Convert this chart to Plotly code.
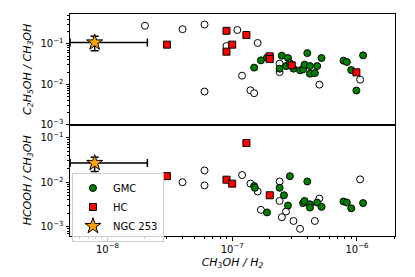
import plotly.graph_objects as go

# ---------------- data ----------------
# Top panel: C2H5OH / CH3OH vs CH3OH / H2
top_open_x = [2.0e-8, 4.0e-8, 6.0e-8, 6.0e-8, 1.1e-7, 9.0e-8, 1.6e-7, 1.2e-7, 1.4e-7, 1.5e-7,
              2.4e-7, 2.4e-7, 5.0e-7, 1.06e-6]
top_open_y = [0.28, 0.23, 0.30, 0.0066, 0.22, 0.088, 0.105, 0.0163, 0.0071, 0.0060,
              0.0324, 0.020, 0.0098, 0.013]

top_gmc_x = [1.5e-7, 1.7e-7, 1.9e-7, 2.5e-7, 2.8e-7, 2.4e-7, 2.7e-7, 2.9e-7, 3.1e-7, 3.5e-7,
             3.7e-7, 3.8e-7, 4.0e-7, 4.2e-7, 4.8e-7, 4.2e-7, 4.6e-7, 5.2e-7, 7.8e-7, 8.3e-7,
             9.0e-7, 9.9e-7, 1.12e-6]
top_gmc_y = [0.0258, 0.039, 0.0455, 0.051, 0.0445, 0.0243, 0.0282, 0.0335, 0.0243, 0.0221,
             0.0234, 0.0306, 0.059, 0.0282, 0.0282, 0.0183, 0.0189, 0.0445, 0.0384, 0.0355,
             0.0225, 0.0070, 0.0519]

top_hc_x = [3.0e-8, 9.0e-8, 1.3e-7, 1.0e-7, 9.0e-8, 2.0e-7, 2.0e-7, 3.0e-7, 9.9e-7]
top_hc_y = [0.0955, 0.21, 0.165, 0.0955, 0.064, 0.049, 0.042, 0.0294, 0.0197]

# Bottom panel: HCOOH / CH3OH vs CH3OH / H2
bot_open_x = [4.0e-8, 6.0e-8, 6.0e-8, 1.2e-7, 1.4e-7, 1.6e-7, 2.4e-7, 2.4e-7, 1.7e-7, 2.7e-7,
              2.5e-7, 3.1e-7, 3.5e-7, 5.0e-7, 4.6e-7, 1.06e-6]
bot_open_y = [0.0100, 0.0184, 0.0085, 0.0145, 0.0093, 0.0062, 0.0104, 0.0038, 0.0024, 0.0022,
              0.00164, 0.00135, 0.0009, 0.0043, 0.00135, 0.0116]

bot_gmc_x = [1.5e-7, 1.52e-7, 2.9e-7, 4.0e-7, 2.4e-7, 2.6e-7, 2.8e-7, 1.9e-7, 3.7e-7, 3.8e-7,
             4.2e-7, 4.2e-7, 4.8e-7, 5.2e-7, 7.8e-7, 8.3e-7, 9.0e-7, 1.12e-6]
bot_gmc_y = [0.0082, 0.0075, 0.0137, 0.0104, 0.0075, 0.0051, 0.0030, 0.0021, 0.0034, 0.0038,
             0.0032, 0.0027, 0.0035, 0.0028, 0.0037, 0.0035, 0.0026, 0.0034]

bot_hc_x = [3.0e-8, 1.3e-7, 9.0e-8, 1.0e-7, 2.0e-7]
bot_hc_y = [0.0137, 0.076, 0.0114, 0.0093, 0.0051]

# NGC 253
ngc_x = [7.9e-9]
ngc_x_plus = [1.3e-8]
ngc_x_minus = [2.88e-9]
ngc_top_y = [0.108]
ngc_top_plus = [0.045]
ngc_top_minus = [0.041]
ngc_bot_y = [0.027]
ngc_bot_plus = [0.0092]
ngc_bot_minus = [0.0096]

# ---------------- figure ----------------
FONT = "DejaVu Sans"
open_marker = dict(symbol="circle", size=7, color="white", line=dict(color="black", width=1))
gmc_marker = dict(symbol="circle", size=7, color="green", line=dict(color="black", width=1))
hc_marker = dict(symbol="square", size=7, color="red", line=dict(color="black", width=1))
star_marker = dict(symbol="star", size=12, color="orange", line=dict(color="black", width=1))

fig = go.Figure()

# top panel (x2, y)
fig.add_trace(go.Scatter(x=top_open_x, y=top_open_y, mode="markers", marker=open_marker,
                         xaxis="x2", yaxis="y", showlegend=False))
fig.add_trace(go.Scatter(x=top_gmc_x, y=top_gmc_y, mode="markers", marker=gmc_marker,
                         xaxis="x2", yaxis="y", showlegend=False))
fig.add_trace(go.Scatter(x=top_hc_x, y=top_hc_y, mode="markers", marker=hc_marker,
                         xaxis="x2", yaxis="y", showlegend=False))
fig.add_trace(go.Scatter(x=ngc_x, y=ngc_top_y, mode="markers", marker=star_marker,
                         error_x=dict(type="data", array=ngc_x_plus, arrayminus=ngc_x_minus,
                                      color="black", thickness=1.5, width=4),
                         error_y=dict(type="data", array=ngc_top_plus, arrayminus=ngc_top_minus,
                                      color="black", thickness=1.5, width=4),
                         xaxis="x2", yaxis="y", showlegend=False))

# bottom panel (x, y2)
fig.add_trace(go.Scatter(x=bot_open_x, y=bot_open_y, mode="markers", marker=open_marker,
                         xaxis="x", yaxis="y2", showlegend=False))
fig.add_trace(go.Scatter(x=bot_gmc_x, y=bot_gmc_y, mode="markers", marker=gmc_marker,
                         xaxis="x", yaxis="y2", name="GMC"))
fig.add_trace(go.Scatter(x=bot_hc_x, y=bot_hc_y, mode="markers", marker=hc_marker,
                         xaxis="x", yaxis="y2", name="HC"))
fig.add_trace(go.Scatter(x=ngc_x, y=ngc_bot_y, mode="markers", marker=star_marker,
                         error_x=dict(type="data", array=ngc_x_plus, arrayminus=ngc_x_minus,
                                      color="black", thickness=1.5, width=4),
                         error_y=dict(type="data", array=ngc_bot_plus, arrayminus=ngc_bot_minus,
                                      color="black", thickness=1.5, width=4),
                         xaxis="x", yaxis="y2", name="NGC 253"))

def minor_vals(lo, hi):
    vals = []
    for e in range(lo, hi + 1):
        for m in range(2, 10):
            vals.append(m * 10.0 ** e)
    return vals

tick_font = dict(family=FONT, size=10, color="black")
title_font = dict(family=FONT, size=11, color="black")

common = dict(type="log", showgrid=False, zeroline=False, showline=True, linecolor="black",
              linewidth=1, mirror=True, tickfont=tick_font, automargin=False)

x_major = [1e-8, 1e-7, 1e-6]
x_text = ["10<sup>−8</sup>", "10<sup>−7</sup>", "10<sup>−6</sup>"]
y_major = [1e-3, 1e-2, 1e-1]
y_text = ["10<sup>−3</sup>", "10<sup>−2</sup>", "10<sup>−1</sup>"]

SPLIT = 0.5014
fig.update_layout(
    width=415, height=277,
    margin=dict(l=70, r=20, t=14, b=41, pad=0, autoexpand=False),
    paper_bgcolor="white", plot_bgcolor="white",
    font=dict(family=FONT, color="black"),
    xaxis=dict(**common, domain=[0, 1], anchor="y2", range=[-8.30, -5.695],
               tickmode="array", tickvals=x_major, ticktext=x_text,
               ticks="outside", ticklen=3.5, tickwidth=1, tickcolor="black",
               minor=dict(tickmode="array", tickvals=minor_vals(-9, -6), ticks="outside",
                          ticklen=2, tickwidth=0.8, tickcolor="black", showgrid=False),
               title=dict(text="<i>CH<sub>3</sub>OH / H<sub>2</sub></i>", font=title_font,
                          standoff=4)),
    xaxis2=dict(**common, domain=[0, 1], anchor="y", matches="x", range=[-8.30, -5.695],
                showticklabels=False, ticks=""),
    yaxis=dict(**common, domain=[SPLIT, 1], anchor="x2", range=[-3, -0.262],
               tickmode="array", tickvals=y_major, ticktext=y_text,
               ticks="outside", ticklen=3.5, tickwidth=1, tickcolor="black",
               minor=dict(tickmode="array", tickvals=minor_vals(-3, 0), ticks="outside",
                          ticklen=2, tickwidth=0.8, tickcolor="black", showgrid=False),
               title=dict(text="<i>C<sub>2</sub>H<sub>5</sub>OH / CH<sub>3</sub>OH</i>",
                          font=title_font, standoff=6)),
    yaxis2=dict(**common, domain=[0, SPLIT], anchor="x", range=[-3.207, -0.708],
                tickmode="array", tickvals=y_major, ticktext=y_text,
                ticks="outside", ticklen=3.5, tickwidth=1, tickcolor="black",
                minor=dict(tickmode="array", tickvals=minor_vals(-4, 0), ticks="outside",
                           ticklen=2, tickwidth=0.8, tickcolor="black", showgrid=False),
                title=dict(text="<i>HCOOH / CH<sub>3</sub>OH</i>", font=title_font, standoff=6)),
    legend=dict(x=0.006, y=0.286, xanchor="left", yanchor="top",
                bgcolor="rgba(255,255,255,0.8)", bordercolor="#cccccc", borderwidth=1,
                font=dict(family=FONT, size=10, color="black"),
                tracegroupgap=0),
)

fig.write_html("out.html",
               config={"displayModeBar": False},
               post_script="document.body.style.margin='0';document.body.style.overflow='hidden';")
